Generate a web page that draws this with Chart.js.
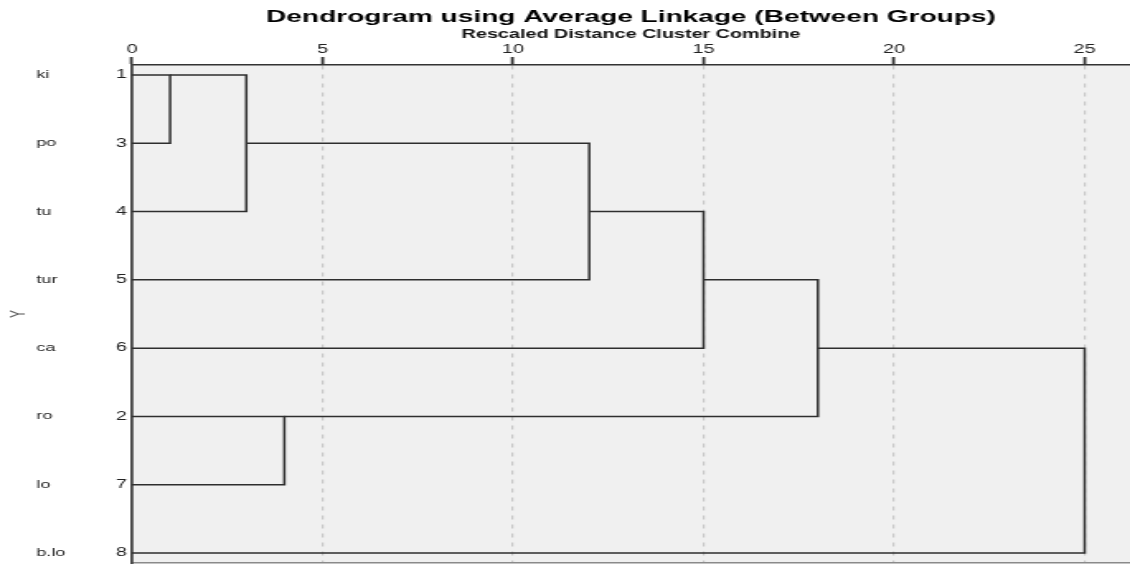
<!DOCTYPE html>
<html><head><meta charset="utf-8">
<script src="https://cdn.jsdelivr.net/npm/chart.js@4.4.1/dist/chart.umd.min.js"></script>
<style>html,body{margin:0;padding:0;background:#fff;overflow:hidden}#wrap{width:1130px;height:565px}
#c{display:block}</style>
</head><body><div id="wrap"><canvas id="c" width="685" height="565" style="width:1130px;height:565px"></canvas></div>
<script>
// ---- data ----
const caseLabels = ['ki', 'po', 'tu', 'tur', 'ca', 'ro', 'lo', 'b.lo'];
const caseNumbers = ['1', '3', '4', '5', '6', '2', '7', '8'];
const xTickValues = [0, 5, 10, 15, 20, 25];
// leaves are clusters 0..7 (in row order); each merge creates cluster 8, 9, ...
const mergeA = [0, 8, 9, 10, 5, 11, 13];
const mergeB = [1, 2, 3, 4, 6, 12, 7];
const mergeDistance = [1, 3, 12, 15, 4, 18, 25];
const titleText = 'Dendrogram using Average Linkage (Between Groups)';
const axisTitleText = 'Rescaled Distance Cluster Combine';
const yTitleText = 'Y';

// ---- build link polylines from the merge table ----
const rowOf = caseLabels.map((_, i) => i);
const distOf = caseLabels.map(() => 0);
const datasets = mergeA.map((a, i) => {
  const b = mergeB[i], d = mergeDistance[i];
  const ra = rowOf[a], rb = rowOf[b];
  const pts = [{x: distOf[a], y: ra}, {x: d, y: ra}, {x: d, y: rb}, {x: distOf[b], y: rb}];
  rowOf.push(Math.floor((ra + rb) / 2));
  distOf.push(d);
  return {data: pts, showLine: true, borderColor: '#2e2e2e', borderWidth: 1.5,
          pointRadius: 0, pointHoverRadius: 0, fill: false, tension: 0};
});

const FONT = "'Liberation Sans', Arial, sans-serif";
Chart.defaults.font.family = FONT;
const rowTicks = s => { s.ticks = caseLabels.map((_, i) => ({value: i})); };
const noPad = s => { s.paddingTop = 0; s.paddingBottom = 0; s.paddingLeft = 0; s.paddingRight = 0; };
const yMin = -0.146, yMax = 7.146, xMax = 26.19;

const bgPlugin = {
  id: 'bg',
  beforeDraw(chart) {
    const {ctx, chartArea: a} = chart;
    ctx.save();
    ctx.fillStyle = '#f0f0f0';
    ctx.fillRect(a.left, a.top, a.right - a.left, a.bottom - a.top);
    ctx.restore();
  }
};

new Chart(document.getElementById('c'), {
  type: 'scatter',
  data: {datasets},
  plugins: [bgPlugin],
  options: {
    responsive: false, animation: false, devicePixelRatio: 1,
    layout: {padding: {top: 0, left: 0, right: 0, bottom: 2}},
    plugins: {
      legend: {display: false}, tooltip: {enabled: false},
      title: {display: true, text: titleText, fullSize: false, color: '#000',
              font: {size: 17, weight: 'bold', family: FONT, lineHeight: 1.2},
              padding: {top: 7, bottom: 0}}
    },
    scales: {
      x: {
        type: 'linear', position: 'top', min: 0, max: xMax,
        afterBuildTicks: s => { s.ticks = xTickValues.map(v => ({value: v})); },
        afterFit: s => { s.height = 37.6; noPad(s); },
        ticks: {includeBounds: false, color: '#222', padding: 0, font: {size: 12, family: FONT}},
        grid: {color: c => (c.tick && c.tick.value === 0) ? 'rgba(0,0,0,0)' : '#c8c8c8',
               lineWidth: 1.2, tickColor: '#333', tickWidth: 1.8, tickLength: 8, drawTicks: true},
        border: {display: true, color: '#333', width: 1.5, dash: [4, 5]},
        title: {display: true, text: axisTitleText, color: '#111',
                font: {size: 12, weight: 'bold', family: FONT, lineHeight: 1},
                padding: {top: 1, bottom: 0}}
      },
      x2: {
        type: 'linear', position: 'bottom', min: 0, max: xMax,
        ticks: {display: false}, grid: {display: false, drawTicks: false},
        border: {display: true, color: '#8a8a8a', width: 1.5},
        afterFit: s => { s.height = 0; noPad(s); }
      },
      y: {
        type: 'linear', position: 'left', weight: 0, reverse: true, min: yMin, max: yMax,
        afterBuildTicks: rowTicks,
        afterFit: s => { s.width = 18; noPad(s); },
        ticks: {callback: v => caseNumbers[v], color: '#222', padding: 3, font: {size: 12, family: FONT}},
        grid: {display: false, drawTicks: false},
        border: {display: true, color: '#444', width: 1.8}
      },
      yn: {
        type: 'linear', position: 'left', weight: 1, reverse: true, min: yMin, max: yMax,
        afterBuildTicks: rowTicks,
        afterFit: s => { s.width = 40; noPad(s); },
        ticks: {callback: v => caseLabels[v], crossAlign: 'far', color: '#222', padding: 0,
                font: {size: 11, family: FONT}},
        grid: {display: false, drawTicks: false},
        border: {display: false}
      },
      yt: {
        type: 'linear', position: 'left', weight: 2, reverse: true, min: yMin, max: yMax,
        afterFit: s => { s.width = 22; noPad(s); },
        ticks: {display: false},
        grid: {display: false, drawTicks: false},
        border: {display: false},
        title: {display: true, text: yTitleText, color: '#555',
                font: {size: 12, family: FONT, lineHeight: 1.2}, padding: {top: 4.6, bottom: 0}}
      }
    }
  }
});
</script></body></html>
